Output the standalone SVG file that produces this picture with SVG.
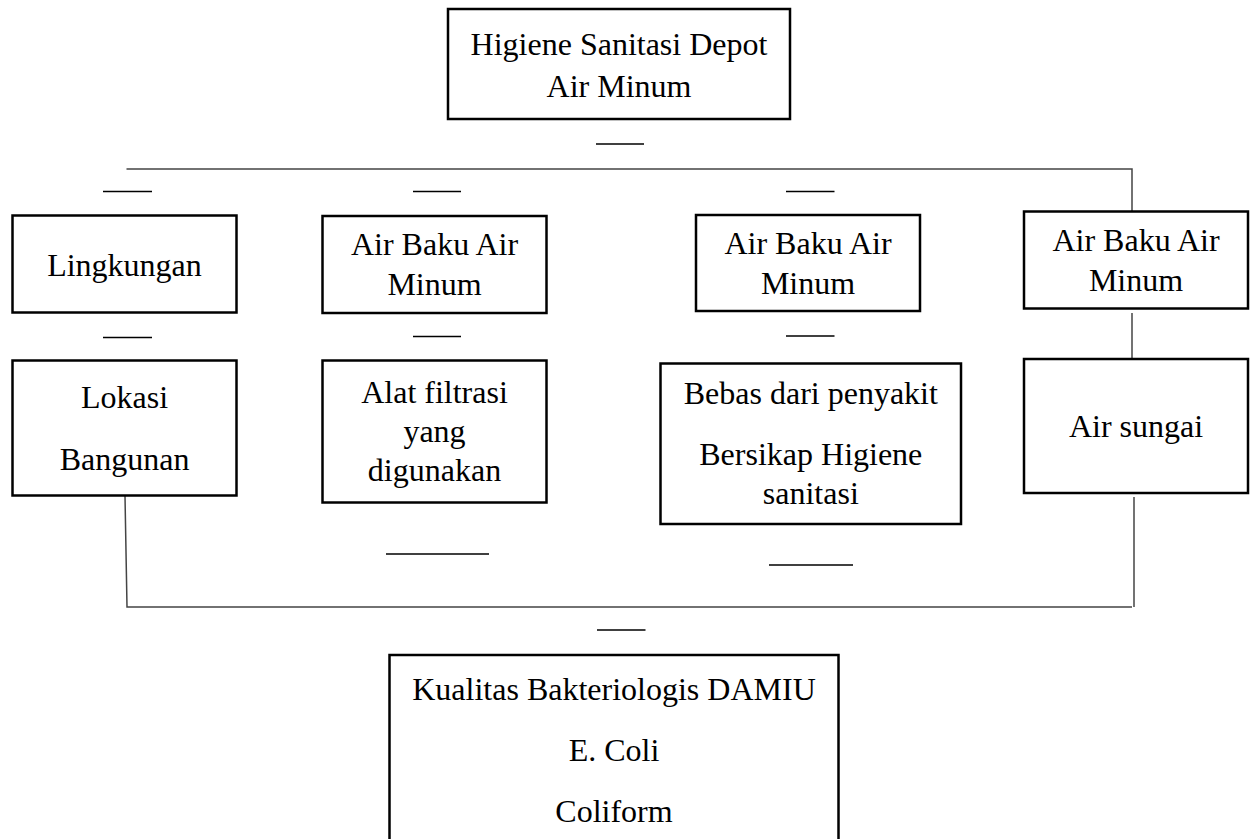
<svg xmlns="http://www.w3.org/2000/svg" width="1253" height="839" viewBox="0 0 1253 839">
<style>
.box{fill:#fff;stroke:#000;stroke-width:2.5}
.t{font-family:'Liberation Serif',Tinos,'Times New Roman',Times,'DejaVu Serif',serif;font-size:32px;fill:#000;text-anchor:middle}
.c{fill:none;stroke:#444;stroke-width:1.5}
.d{stroke:#000;stroke-width:1.5}
</style>
<rect width="1253" height="839" fill="#fff"/>
<g id="connectors">
<polyline class="c" points="126.5,169 1132,169 1132,212"/>
<line class="c" x1="1132" y1="313" x2="1132" y2="359"/>
<polyline class="c" points="125,496 127,607 1132,607"/>
<line class="c" x1="1134" y1="497" x2="1134" y2="607"/>
<line class="d" x1="596" y1="144" x2="644" y2="144"/>
<line class="d" x1="103" y1="191.5" x2="152" y2="191.5"/>
<line class="d" x1="413" y1="191.5" x2="461" y2="191.5"/>
<line class="d" x1="786" y1="191.5" x2="834.5" y2="191.5"/>
<line class="d" x1="103" y1="337.5" x2="152" y2="337.5"/>
<line class="d" x1="413" y1="336.5" x2="461" y2="336.5"/>
<line class="d" x1="786" y1="336" x2="834.5" y2="336"/>
<line class="d" x1="386" y1="554" x2="489" y2="554"/>
<line class="d" x1="769" y1="565" x2="853" y2="565"/>
<line class="d" x1="597" y1="630" x2="645.5" y2="630"/>
</g>
<g id="top">
<rect class="box" x="448" y="9" width="342" height="110"/>
<text class="t" x="619" y="55" font-family="Liberation Serif, serif">Higiene Sanitasi Depot</text>
<text class="t" x="619" y="97">Air Minum</text>
</g>
<g id="lingkungan">
<rect class="box" x="12.5" y="215.5" width="224" height="97"/>
<text class="t" x="124.5" y="276">Lingkungan</text>
</g>
<g id="airbaku1">
<rect class="box" x="322.5" y="216" width="224" height="97"/>
<text class="t" x="434.5" y="255">Air Baku Air</text>
<text class="t" x="434.5" y="295">Minum</text>
</g>
<g id="airbaku2">
<rect class="box" x="696" y="215" width="224" height="96"/>
<text class="t" x="808" y="254">Air Baku Air</text>
<text class="t" x="808" y="294">Minum</text>
</g>
<g id="airbaku3">
<rect class="box" x="1024" y="211.5" width="224" height="97"/>
<text class="t" x="1136" y="250.5">Air Baku Air</text>
<text class="t" x="1136" y="290.5">Minum</text>
</g>
<g id="lokasi">
<rect class="box" x="12.5" y="360.5" width="224" height="135"/>
<text class="t" x="124.5" y="408">Lokasi</text>
<text class="t" x="124.5" y="470">Bangunan</text>
</g>
<g id="alat">
<rect class="box" x="322.5" y="360.5" width="224" height="142"/>
<text class="t" x="434.5" y="403">Alat filtrasi</text>
<text class="t" x="434.5" y="442">yang</text>
<text class="t" x="434.5" y="481">digunakan</text>
</g>
<g id="bebas">
<rect class="box" x="660.5" y="363.5" width="300.5" height="160.5"/>
<text class="t" x="810.8" y="404">Bebas dari penyakit</text>
<text class="t" x="810.8" y="465">Bersikap Higiene</text>
<text class="t" x="810.8" y="504">sanitasi</text>
</g>
<g id="sungai">
<rect class="box" x="1024" y="359" width="224" height="134"/>
<text class="t" x="1136" y="437">Air sungai</text>
</g>
<g id="kualitas">
<rect class="box" x="389.5" y="655" width="449" height="200"/>
<text class="t" x="614" y="700">Kualitas Bakteriologis DAMIU</text>
<text class="t" x="614" y="761">E. Coli</text>
<text class="t" x="614" y="822">Coliform</text>
</g>
</svg>
